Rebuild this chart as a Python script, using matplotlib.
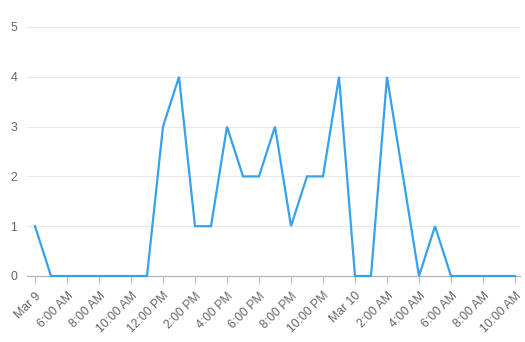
import matplotlib
matplotlib.use("Agg")
import matplotlib.pyplot as plt

# hourly values from Mar 9 4:00 AM to Mar 10 10:00 AM
hours = list(range(31))
values = [1, 0, 0, 0, 0, 0, 0, 0, 3, 4, 1, 1, 3, 2, 2, 3, 1, 2, 2, 4,
          0, 0, 4, 2, 0, 1, 0, 0, 0, 0, 0]
tick_hours = list(range(0, 31, 2))
tick_labels = ["Mar 9", "6:00 AM", "8:00 AM", "10:00 AM", "12:00 PM", "2:00 PM",
               "4:00 PM", "6:00 PM", "8:00 PM", "10:00 PM", "Mar 10", "2:00 AM",
               "4:00 AM", "6:00 AM", "8:00 AM", "10:00 AM"]
y_ticks = [0, 1, 2, 3, 4, 5]

plt.rcParams['font.family'] = ['Liberation Sans', 'DejaVu Sans']

W, H = 525, 342
fig = plt.figure(figsize=(W / 100, H / 100), dpi=100)
left_px, right_px, top_px, bottom_px = 27, 520, 27, 276
ax = fig.add_axes([left_px / W, 1 - bottom_px / H, (right_px - left_px) / W, (bottom_px - top_px) / H])

px_per_hour = 16.0
ax.set_xlim(-(35 - left_px) / px_per_hour, 30 + (right_px - 515) / px_per_hour)
ax.set_ylim(0, 5)

ax.plot(hours, values, color='#36a2eb', linewidth=1.6, solid_joinstyle='miter', zorder=3, clip_on=False)

ax.set_yticks(y_ticks)
ax.set_yticklabels([str(v) for v in y_ticks])
for v in y_ticks[1:]:
    ax.axhline(v, color='#e8e8e8', linewidth=0.8, zorder=1)

ax.set_xticks(tick_hours)
ax.set_xticklabels(tick_labels, rotation=45, ha='right', va='top', rotation_mode='anchor')

for s in ['top', 'right', 'left']:
    ax.spines[s].set_visible(False)
ax.spines['bottom'].set_color('#b5b5b5')
ax.spines['bottom'].set_linewidth(0.9)

ax.tick_params(axis='x', length=5, width=0.8, color='#b5b5b5', colors='#666666', labelsize=8.8, pad=5)
ax.tick_params(axis='x', color='#b5b5b5')
ax.tick_params(axis='y', length=0, colors='#666666', labelsize=8.8, pad=7)

fig.savefig('out.png', dpi=100, facecolor='white')
